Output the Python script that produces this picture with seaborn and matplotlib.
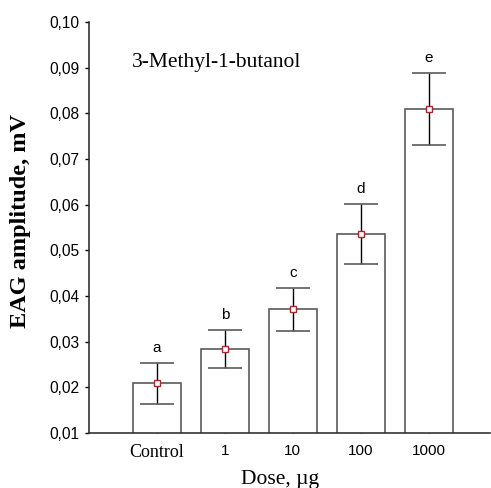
import numpy as np
import pandas as pd
import matplotlib
matplotlib.use('Agg')
import matplotlib.pyplot as plt
import seaborn as sns

# Data
doses = ['Control', '1', '10', '100', '1000']
eag_mean = [0.0209, 0.0284, 0.0371, 0.0535, 0.0810]
eag_err = [0.0045, 0.0041, 0.0047, 0.0066, 0.0079]
groups = ['a', 'b', 'c', 'd', 'e']
y_ticks = [0.01, 0.02, 0.03, 0.04, 0.05, 0.06, 0.07, 0.08, 0.09, 0.10]
y_tick_labels = ['0,01', '0,02', '0,03', '0,04', '0,05', '0,06', '0,07', '0,08', '0,09', '0,10']

df = pd.DataFrame({'dose': doses, 'eag': eag_mean})

sns.set_style('ticks')
plt.rcParams['font.family'] = ['Liberation Sans', 'DejaVu Sans']
plt.rcParams['text.color'] = 'black'
plt.rcParams['xtick.color'] = 'black'
plt.rcParams['ytick.color'] = 'black'
plt.rcParams['axes.labelcolor'] = 'black'

fig = plt.figure(figsize=(4.91, 4.88), dpi=100)
ax = fig.add_axes([0.181, 0.1127, 0.817, 0.8423])

sns.barplot(data=df, x='dose', y='eag', order=doses, color='white',
            edgecolor='#5a5a5a', linewidth=1.2, width=0.7, errorbar=None, ax=ax)

xpos = np.arange(len(doses))
mean = np.array(eag_mean)
err = np.array(eag_err)

# error bars: black stem, grey caps
ax.vlines(xpos, mean - err, mean + err, color='black', linewidth=1.0, zorder=3)
ax.hlines(mean + err, xpos - 0.25, xpos + 0.25, color='#5a5a5a', linewidth=1.2, zorder=3)
ax.hlines(mean - err, xpos - 0.25, xpos + 0.25, color='#5a5a5a', linewidth=1.2, zorder=3)

# mean markers
ax.plot(xpos, mean, linestyle='none', marker='s', markersize=5,
        markerfacecolor='white', markeredgecolor='#a52a2a', markeredgewidth=1.0, zorder=4)

# significance letters
for x, top, g in zip(xpos, mean + err, groups):
    ax.text(x, top + 0.0017, g, ha='center', va='bottom', fontsize=11,
            family='Liberation Sans')

ax.set_ylim(0.01, 0.10)
ax.set_xlim(-1, 4.9)
ax.set_yticks(y_ticks)
ax.set_yticklabels(y_tick_labels, fontsize=11.2)
ax.set_xticks(xpos)
ax.set_xticklabels(doses, fontsize=11)
ax.get_xticklabels()[0].set_family('Liberation Serif')
ax.get_xticklabels()[0].set_fontsize(13)

ax.tick_params(axis='y', direction='out', length=3, width=1, pad=4)
ax.tick_params(axis='x', direction='in', length=3, width=1, pad=8)
for s in ['left', 'bottom']:
    ax.spines[s].set_linewidth(1.2)
    ax.spines[s].set_color('#333333')
sns.despine(ax=ax)

ax.set_xlabel('Dose, µg', family='Liberation Serif', fontsize=15.5)
ax.xaxis.set_label_coords(0.477, -0.09)
ax.set_ylabel('EAG amplitude, mV', family='Liberation Serif', fontsize=17.5,
              fontweight='bold')
ax.yaxis.set_label_coords(-0.145, 0.515)

ax.text(-0.37, 0.0912, '3-Methyl-1-butanol', family='Liberation Serif', fontsize=15.5,
        ha='left', va='center')

fig.savefig('out.png', dpi=100)
